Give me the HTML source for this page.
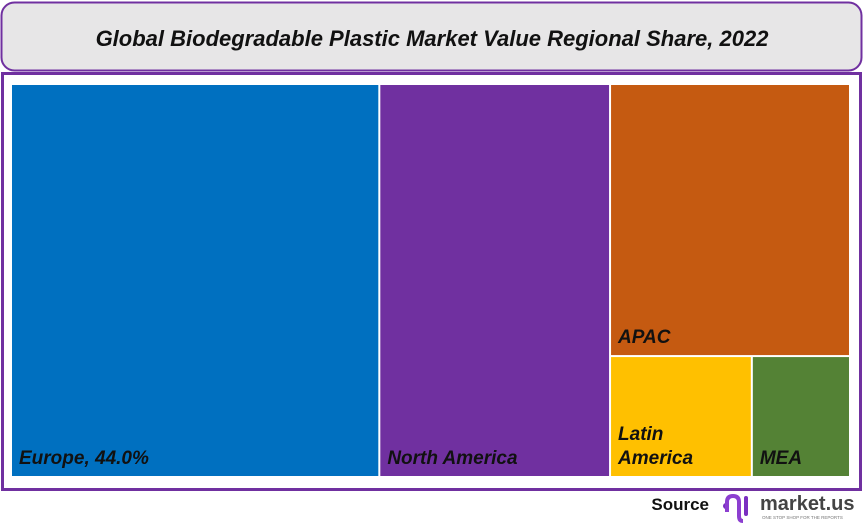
<!DOCTYPE html>
<html><head><meta charset="utf-8"><style>
body{margin:0;width:864px;height:525px;background:#fff;overflow:hidden;font-family:"Liberation Sans",sans-serif}
</style></head><body>
<svg id="c" width="864" height="525">
<rect x="1.5" y="2.5" width="860" height="68" rx="13" fill="#e7e6e7" stroke="#7030a0" stroke-width="2"/>
<text x="432" y="46" text-anchor="middle" font-size="22" font-weight="bold" font-style="italic" fill="#111">Global Biodegradable  Plastic Market Value Regional Share, 2022</text>
<rect x="2.5" y="73.5" width="858" height="416" fill="#fff" stroke="#7030a0" stroke-width="3"/>
<g id="tiles"></g>
<text x="709" y="510" text-anchor="end" font-size="17" font-weight="bold" fill="#111">Source</text>
<g>
<circle cx="726" cy="506" r="3" fill="#7a2fc0"/>
<path d="M727 512 v-10 q0-6 6-6 q6 0 6 6 v14 q0 5 4 5" fill="none" stroke="#8c3fd0" stroke-width="4"/>
<rect x="744" y="496" width="4" height="20" rx="2" fill="#7a2fc0"/>
<text x="760" y="510" font-size="20" font-weight="bold" fill="#444">market.us</text>
<text x="762" y="519" font-size="4.5" fill="#777">ONE STOP SHOP FOR THE REPORTS</text>
</g>
</svg>
<script>
const regions=["Europe","North America","APAC","Latin America","MEA"];
const shares=[43.9,27.5,19.8,5.2,3.6];
const colors=["#0070c0","#7030a0","#c55a11","#ffc000","#548235"];
const labels=["Europe, 44.0%","North America","APAC","Latin|America","MEA"];
const X0=12,Y0=85,W=839,H=393,G=2;
const total=shares.reduce((a,b)=>a+b,0);
const xs=v=>v/total*W;
const rects=[];
let x=X0;
const wE=xs(shares[0]),wN=xs(shares[1]);
rects.push([x,Y0,wE,H]);x+=wE;
rects.push([x,Y0,wN,H]);x+=wN;
const wR=X0+W-x;
const rest=shares[2]+shares[3]+shares[4];
const hA=H*shares[2]/rest;
rects.push([x,Y0,wR,hA]);
const small=shares[3]+shares[4];
const wL=wR*shares[3]/small;
rects.push([x,Y0+hA,wL,H-hA]);
rects.push([x+wL,Y0+hA,wR-wL,H-hA]);
const g=document.getElementById('tiles');
const ns="http://www.w3.org/2000/svg";
rects.forEach((r,i)=>{
 const el=document.createElementNS(ns,'rect');
 el.setAttribute('x',r[0]);el.setAttribute('y',r[1]);
 el.setAttribute('width',r[2]-G);el.setAttribute('height',r[3]-G);
 el.setAttribute('fill',colors[i]);
 
 
 g.appendChild(el);
 const lines=labels[i].split('|');
 lines.forEach((ln,j)=>{
  const t=document.createElementNS(ns,'text');
  t.setAttribute('x',r[0]+7);
  t.setAttribute('y',r[1]+r[3]-G-12-(lines.length-1-j)*24);
  t.setAttribute('font-size','19');t.setAttribute('font-weight','bold');t.setAttribute('font-style','italic');
  t.setAttribute('fill','#111');
  t.textContent=ln;
  
  
  g.appendChild(t);
 });
});
</script>
</body></html>
